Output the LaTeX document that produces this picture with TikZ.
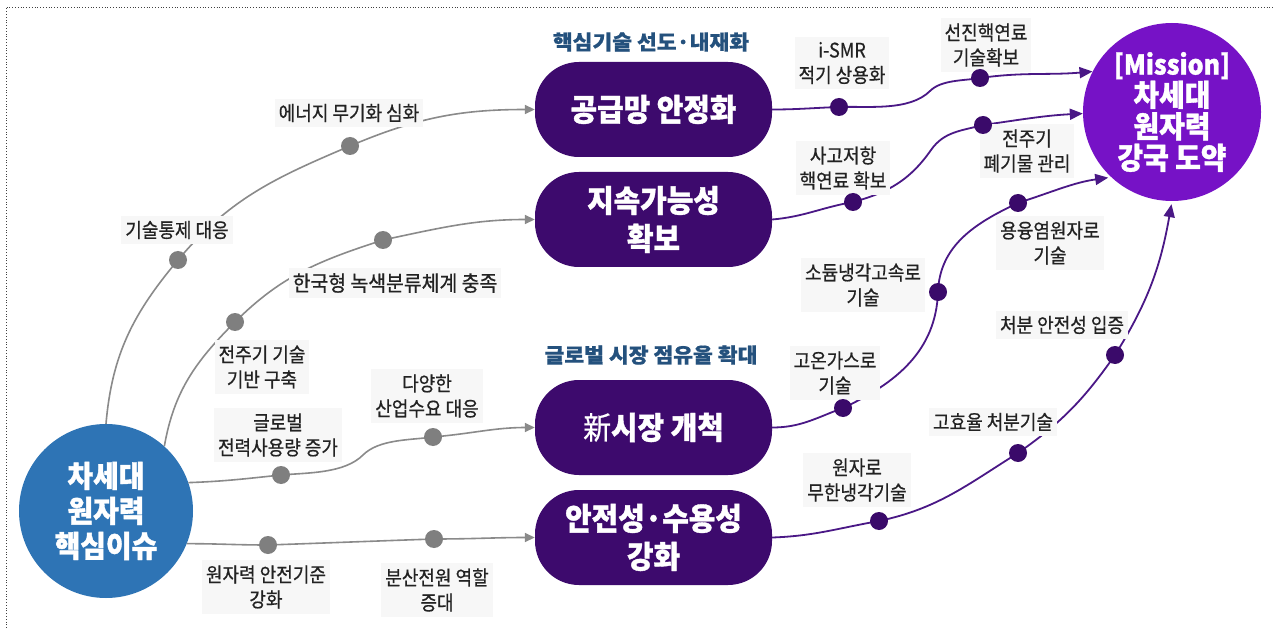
\documentclass[tikz,border=0pt]{standalone}
\usepackage{fontspec}
\setmainfont{Noto Sans CJK KR}
\newfontfamily\labfont[FakeStretch=0.9,FakeBold=0.6]{Noto Sans CJK KR}
\newfontfamily\heavyfont[FakeStretch=0.93,FakeBold=1.2]{Noto Sans CJK KR}
\newfontfamily\titlefont[FakeStretch=1.05,FakeBold=0.6]{Noto Sans CJK KR}
\usetikzlibrary{arrows.meta}
\definecolor{cblue}{HTML}{2E74B5}
\definecolor{cpill}{HTML}{3D0A6D}
\definecolor{cmission}{HTML}{7612C6}
\definecolor{cpline}{HTML}{4A1886}
\definecolor{cpdot}{HTML}{3A0A6A}
\definecolor{cgline}{HTML}{8A8A8A}
\definecolor{cgdot}{HTML}{7F7F7F}
\definecolor{cpanel}{HTML}{DCE5F1}
\definecolor{ctitle}{HTML}{24517D}
\definecolor{labbg}{HTML}{F7F7F7}
\definecolor{ctext}{HTML}{222222}
\pgfdeclarelayer{bg}
\pgfdeclarelayer{lab}
\pgfdeclarelayer{fg}
\pgfsetlayers{bg,main,lab,fg}
\begin{document}
\begin{tikzpicture}[x=1pt,y=1pt,
  gdot/.style={circle, fill=cgdot, minimum size=18pt, inner sep=0pt},
  pdot/.style={circle, fill=cpdot, minimum size=18pt, inner sep=0pt},
  glink/.style={draw=cgline, line width=1.6pt, -{Triangle[length=10pt,width=9pt]}},
  plink/.style={draw=cpline, line width=1.8pt, -{Triangle[length=13pt,width=11pt]}},
  lab/.style={fill=labbg, font=\labfont\fontsize{20}{25}\selectfont, align=center, inner xsep=4pt, inner ysep=5pt, text=ctext},
  pill/.style={fill=cpill, rounded corners=44pt, minimum width=237pt, minimum height=95pt, text=white, font=\heavyfont\bfseries\fontsize{31}{38}\selectfont, align=center, inner sep=0pt},
  panel/.style={fill=cpanel, inner sep=0pt},
  ptitle/.style={text=ctitle, font=\titlefont\bfseries\fontsize{20.5}{24}\selectfont, inner sep=0pt},
  bigcirc/.style={circle, inner sep=0pt, text=white, align=center}
]
\useasboundingbox (0,0) rectangle (1274,-628);
\fill[white] (0,0) rectangle (1274,-628);
\draw[dotted, line width=0.8pt, black!75] (6,-628) -- (6,-7) -- (1274,-7);

% panels
\begin{pgfonlayer}{bg}
\node[panel, minimum width=266pt, minimum height=258pt] (pan1) at (649,-153) {};
\node[panel, minimum width=266pt, minimum height=258pt] (pan2) at (649,-469) {};
\end{pgfonlayer}
\node[ptitle] (t1) at (651,-42) {핵심기술 선도·내재화};
\node[ptitle] (t2) at (651,-355) {글로벌 시장 점유율 확대};

% pills
\node[pill] (p1) at (653.5,-109.5) {공급망 안정화};
\node[pill] (p2) at (653.5,-219.5) {지속가능성\\확보};
\node[pill] (p3) at (653.5,-427.5) {{\labfont\mdseries 新}시장 개척};
\node[pill] (p4) at (653.5,-537.5) {안전성·수용성\\강화};

% big circles
\node[bigcirc, fill=cblue, minimum size=174pt, font=\heavyfont\bfseries\fontsize{30}{35}\selectfont] (lc) at (106,-511) {차세대\\원자력\\핵심이슈};
\node[bigcirc, fill=cmission, minimum size=178pt, font=\heavyfont\bfseries\fontsize{30}{31.5}\selectfont] (m) at (1172,-112) {{\fontsize{27}{31.5}\selectfont [Mission]}\\차세대\\원자력\\강국 도약};

% dots
\begin{pgfonlayer}{fg}
\node[gdot] (a1) at (178,-260) {};
\node[gdot] (a2) at (350,-146) {};
\node[gdot] (b1) at (235,-322) {};
\node[gdot] (b2) at (383,-240) {};
\node[gdot] (c1) at (281,-475) {};
\node[gdot] (c2) at (433,-437) {};
\node[gdot] (d1) at (268,-545) {};
\node[gdot] (d2) at (434,-539) {};
\node[pdot] (e1) at (839,-107) {};
\node[pdot] (e2) at (980,-78) {};
\node[pdot] (f1) at (853,-202) {};
\node[pdot] (f2) at (983,-125) {};
\node[pdot] (g1) at (843,-408) {};
\node[pdot] (g2) at (938,-292) {};
\node[pdot] (g3) at (1018,-203) {};
\node[pdot] (h1) at (879,-521) {};
\node[pdot] (h2) at (1018,-453) {};
\node[pdot] (h3) at (1115,-355) {};
\end{pgfonlayer}
\coordinate (cb) at (363,-455);
\coordinate (eb) at (930,-91);
\coordinate (fb) at (931,-150);

% gray connectors
\draw[glink] (lc.north) to[out=85,in=230] (a1.center) to[out=50,in=203] (a2.center) to[out=23,in=180] (p1.west);
\draw[glink] (lc.48) to[out=80,in=225] (b1.center) to[out=45,in=198] (b2.center) to[out=12,in=180] (p2.west);
\draw[glink] (lc.19) to[out=2,in=186] (c1.center) to[out=5,in=225,looseness=0.8] (cb) to[out=45,in=188,looseness=0.8] (c2.center) to[out=5,in=180] (p3.west);
\draw[glink] (lc.-22) to[out=0,in=180] (d1.center) to[out=2,in=182] (d2.center) to[out=0,in=180] (p4.west);

% purple connectors
\draw[plink] (p1.east) to[out=0,in=182] (e1.center) to[out=2,in=225,looseness=0.8] (eb) to[out=45,in=190,looseness=0.8] (e2.center) to[out=8,in=185] (m.153);
\draw[plink] (p2.east) to[out=5,in=190] (f1.center) to[out=15,in=235] (fb) to[out=55,in=195] (f2.center) to[out=8,in=183] (m.181);
\draw[plink, shorten >=3pt] (p3.east) to[out=0,in=200] (g1.center) to[out=25,in=268] (g2.center) to[out=88,in=205] (g3.center) to[out=18,in=188] (m.227);
\draw[plink, shorten >=3pt] (p4.east) to[out=2,in=190] (h1.center) to[out=12,in=212] (h2.center) to[out=35,in=235] (h3.center) to[out=58,in=260] (m.south);

% labels
\begin{pgfonlayer}{lab}
\node[lab] (L1) at (349,-113) {에너지 무기화 심화};
\node[lab] (L2) at (177,-230) {기술통제 대응};
\node[lab, font=\labfont\fontsize{21.5}{25}\selectfont] (L3) at (395,-283) {한국형 녹색분류체계 충족};
\node[lab] (L4) at (262,-367) {전주기 기술\\기반 구축};
\node[lab] (L5) at (278,-435) {글로벌\\전력사용량 증가};
\node[lab] (L6) at (427,-396) {다양한\\산업수요 대응};
\node[lab] (L7) at (266,-587) {원자력 안전기준\\강화};
\node[lab] (L8) at (437,-590) {분산전원 역할\\증대};
\node[lab] (R1) at (842,-63) {i-SMR\\적기 상용화};
\node[lab] (R2) at (986,-45) {선진핵연료\\기술확보};
\node[lab] (R3) at (843,-168) {사고저항\\핵연료 확보};
\node[lab] (R4) at (1027,-151) {전주기\\폐기물 관리};
\node[lab] (R5) at (1050,-243) {용융염원자로\\기술};
\node[lab] (R6) at (863,-285) {소듐냉각고속로\\기술};
\node[lab] (R7) at (1062,-325) {처분 안전성 입증};
\node[lab] (R8) at (835,-373) {고온가스로\\기술};
\node[lab] (R9) at (993,-422) {고효율 처분기술};
\node[lab] (R10) at (857,-480) {원자로\\무한냉각기술};
\end{pgfonlayer}
\end{tikzpicture}
\end{document}
